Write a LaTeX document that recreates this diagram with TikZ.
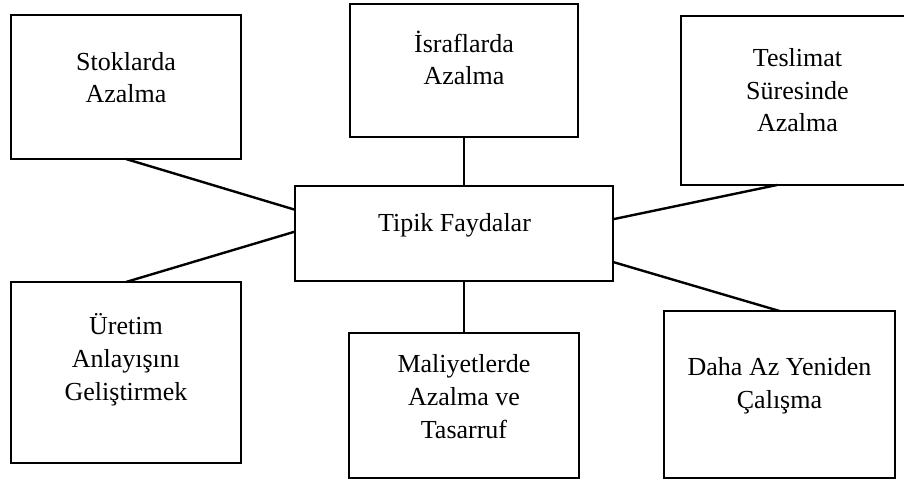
\documentclass[tikz,border=0pt]{standalone}
\usepackage{fontspec}
\setmainfont{Liberation Serif}
\usetikzlibrary{calc}
\begin{document}
\begin{tikzpicture}[x=0.75pt,y=-0.75pt,
  box/.style={draw, line width=1.8pt, rectangle, inner sep=0pt, outer sep=0pt},
  txt/.style={font=\fontsize{19.5}{24.4}\selectfont, align=center, inner sep=0pt, anchor=base},
  link/.style={line width=1.8pt}]
\useasboundingbox (0,0) rectangle (904,481);
% boxes
\node[box, minimum width=172.5pt, minimum height=108pt]    (sto) at (126,87) {};
\node[box, minimum width=171pt,   minimum height=99.75pt]  (isr) at (464,70.5) {};
\node[box, minimum width=174pt,   minimum height=126.75pt] (tes) at (797,100.5) {};
\node[box, minimum width=238.5pt, minimum height=71.25pt]  (tip) at (454,233.5) {};
\node[box, minimum width=172.5pt, minimum height=135.75pt] (ure) at (126,372.5) {};
\node[box, minimum width=172.5pt, minimum height=108.75pt] (mal) at (464,405.5) {};
\node[box, minimum width=173.25pt,minimum height=125.25pt] (dah) at (779.5,394.5) {};
% texts (anchored at the baseline of the last line)
\node[txt] (tsto) at (126,102.7)  {Stoklarda\\Azalma};
\node[txt] (tisr) at (464,85)     {İsraflarda\\Azalma};
\node[txt] (ttes) at (797.5,132)  {Teslimat\\Süresinde\\Azalma};
\node[txt] (ttip) at (454.5,231.7){Tipik Faydalar};
\node[txt] (ture) at (126,400)    {Üretim\\Anlayışını\\Geliştirmek};
\node[txt] (tmal) at (464,438)    {Maliyetlerde\\Azalma ve\\Tasarruf};
\node[txt] (tdah) at (779.5,408)  {Daha Az Yeniden\\Çalışma};
% connectors
\draw[link] (sto.south) -- ($(tip.north west)!0.25!(tip.south west)$);
\draw[link] (ure.north) -- ($(tip.north west)!0.48!(tip.south west)$);
\draw[link] (isr.south) -- (isr.south |- tip.north);
\draw[link] (mal.north) -- (mal.north |- tip.south);
\draw[link] ($(tes.south west)!0.414!(tes.south east)$) -- ($(tip.north east)!0.35!(tip.south east)$);
\draw[link] (dah.north) -- ($(tip.north east)!0.8!(tip.south east)$);
\end{tikzpicture}
\end{document}
